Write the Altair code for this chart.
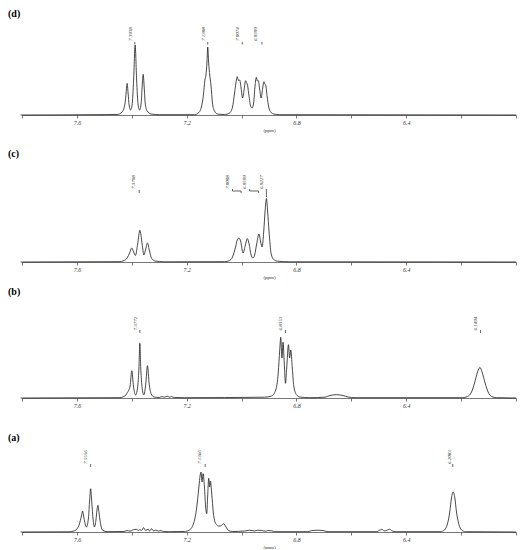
import altair as alt
import pandas as pd

# ---------------- axis ----------------
X_DOMAIN = [6.0, 7.8]
TICK_VALUES = [7.8, 7.7, 7.6, 7.5, 7.4, 7.3, 7.2, 7.1, 7.0, 6.9, 6.8, 6.7, 6.6, 6.5, 6.4, 6.3, 6.2, 6.1, 6.0]
LABELED_TICKS = ["7.6", "7.2", "6.8", "6.4"]

# ---------------- spectrum (d) ----------------
d_ppm = [7.805, 7.4536, 7.4353, 7.4244, 7.4207, 7.4170, 7.4134, 7.4097, 7.4042, 7.3988, 7.3933, 7.3878,
         7.3823, 7.3768, 7.3713, 7.3658, 7.3622, 7.3585, 7.3548, 7.3512, 7.3439, 7.3292, 7.3000, 7.1719,
         7.1573, 7.1463, 7.1390, 7.1335, 7.1298, 7.1262, 7.1232, 7.1199, 7.1159, 7.1115, 7.1060, 7.0987,
         7.0877, 7.0621, 7.0438, 7.0329, 7.0255, 7.0182, 7.0157, 7.0109, 7.0072, 7.0017, 6.9963, 6.9908,
         6.9853, 6.9816, 6.9791, 6.9743, 6.9670, 6.9615, 6.9560, 6.9505, 6.9461, 6.9421, 6.9388, 6.9341,
         6.9286, 6.9231, 6.9183, 6.9150, 6.9121, 6.9066, 6.9011, 6.8938, 6.8828, 6.8609, 6.0]
d_int = [0, 0.5, 3, 12, 22, 31.6, 22, 10, 5, 10, 35, 70,
         35, 10, 5, 12, 28, 40.6, 28, 12, 4, 1, 0.3, 0.3,
         2, 8, 20, 35, 40, 52, 68, 52, 40, 30, 12, 4,
         1, 0.5, 2, 8, 22, 36, 38.3, 34.5, 35, 27, 17, 25,
         34.3, 32, 31, 22, 9, 7, 12, 30, 37.7, 34, 34.3, 26,
         17, 27, 33.3, 31, 30, 18, 8, 3, 1, 0.3, 0]
d_lab_text = ["7.3938", "7.1308", "7.0074", "6.9399"]
d_lab_ppm = [7.4061, 7.1415, 7.0171, 6.9498]
d_lab_h = [81, 81, 81, 81]
d_seg_x1 = [7.3889, 7.1232, 6.9974, 6.9256]
d_seg_x2 = [7.3889, 7.1232, 6.9974, 6.9256]
d_seg_y1 = [73, 73, 73, 73]
d_seg_y2 = [70.5, 70.5, 70.5, 70.5]

# ---------------- spectrum (c) ----------------
c_ppm = [7.805, 7.4463, 7.4280, 7.4170, 7.4079, 7.3999, 7.3933, 7.3867, 7.3786, 7.3706, 7.3622, 7.3559,
         7.3501, 7.3428, 7.3355, 7.3274, 7.3146, 7.2817, 7.0621, 7.0438, 7.0329, 7.0219, 7.0157, 7.0098,
         7.0036, 6.9944, 6.9860, 6.9791, 6.9725, 6.9652, 6.9589, 6.9524, 6.9450, 6.9366, 6.9304, 6.9249,
         6.9194, 6.9139, 6.9095, 6.9048, 6.9000, 6.8920, 6.8828, 6.8682, 6.8243, 6.0]
c_int = [0, 0.3, 1.5, 4, 9, 14, 10, 6.5, 18, 31.7, 18, 7,
         12, 19, 11, 3.5, 1, 0.2, 0.3, 1.5, 5, 15, 22, 24,
         21, 9, 17, 23.4, 18, 7, 4, 7, 18, 28, 20, 15,
         30, 52, 63.4, 50, 31, 8, 2.5, 0.8, 0.2, 0]
c_lab_text = ["7.3798", "7.0008", "6.9599", "6.9227"]
c_lab_ppm = [7.3951, 7.0537, 6.9926, 6.9278]
c_lab_h = [80, 80, 80, 80]
c_seg_x1 = [7.3731, 7.0329, 7.0329, 7.0017, 6.9707, 6.9707, 6.9377, 6.9095]
c_seg_x2 = [7.3731, 7.0329, 7.0017, 7.0017, 6.9707, 6.9377, 6.9377, 6.9095]
c_seg_y1 = [72, 73, 71, 71, 73, 71, 71, 73]
c_seg_y2 = [69, 71, 71, 69, 71, 71, 69, 65]

# ---------------- spectrum (b) ----------------
b_ppm = [7.805, 7.4463, 7.4280, 7.4170, 7.4061, 7.3999, 7.3940, 7.3859, 7.3775, 7.3739, 7.3706, 7.3673,
         7.3636, 7.3563, 7.3490, 7.3428, 7.3366, 7.3292, 7.3183, 7.3000, 7.2890, 7.2817, 7.2707, 7.2634,
         7.2561, 7.2451, 7.2085, 6.9158, 6.8902, 6.8755, 6.8664, 6.8609, 6.8572, 6.8528, 6.8488, 6.8444,
         6.8400, 6.8356, 6.8290, 6.8250, 6.8206, 6.8151, 6.8097, 6.8005, 6.7877, 6.7511, 6.6962, 6.6779,
         6.6534, 6.6304, 6.6121, 6.5865, 6.1949, 6.1766, 6.1620, 6.1510, 6.1401, 6.1316, 6.1236, 6.1126,
         6.1016, 6.0888, 6.0705, 6.0]
b_int = [0, 0.3, 1.5, 5, 12, 27.3, 12, 3, 14, 30, 54.7, 30,
         14, 3, 14, 32.3, 14, 4, 1, 0.5, 1.5, 0.8, 1.8, 0.8,
         1.5, 0.5, 0.3, 0.8, 2, 8, 25, 48, 60.7, 40, 55.7, 35,
         14.7, 30, 53.3, 40, 48, 30, 12, 3.5, 1, 0.3, 0.8, 2.5,
         3.3, 2.5, 1, 0.3, 0.3, 1.5, 6, 15, 26, 30.6, 26, 15,
         6, 1.5, 0.3, 0]
b_lab_text = ["7.3772", "6.8353", "6.1494"]
b_lab_ppm = [7.3878, 6.8583, 6.1510]
b_lab_h = [74.5, 74.5, 74.5]
b_seg_x1 = [7.3706, 6.8400, 6.1291]
b_seg_x2 = [7.3706, 6.8400, 6.1291]
b_seg_y1 = [68, 68, 68]
b_seg_y2 = [65, 65, 65]

# ---------------- spectrum (a) ----------------
a_ppm = [7.805, 7.6293, 7.6110, 7.6000, 7.5909, 7.5835, 7.5791, 7.5744, 7.5652, 7.5579, 7.5535, 7.5499,
         7.5458, 7.5407, 7.5360, 7.5305, 7.5268, 7.5232, 7.5188, 7.5122, 7.5049, 7.4902, 7.4280, 7.4170,
         7.4061, 7.3951, 7.3830, 7.3750, 7.3706, 7.3640, 7.3574, 7.3494, 7.3402, 7.3347, 7.3281, 7.3201,
         7.3120, 7.3036, 7.2937, 7.2853, 7.2634, 7.2085, 7.1902, 7.1756, 7.1646, 7.1554, 7.1507, 7.1474,
         7.1441, 7.1401, 7.1353, 7.1309, 7.1269, 7.1236, 7.1196, 7.1163, 7.1134, 7.1086, 7.1031, 7.0969,
         7.0914, 7.0841, 7.0768, 7.0658, 7.0566, 7.0475, 7.0329, 6.9889, 6.9707, 6.9524, 6.9414, 6.9267,
         6.9121, 6.9048, 6.8902, 6.8792, 6.7584, 6.7438, 6.7218, 6.7035, 6.6852, 6.5096, 6.4950, 6.4888,
         6.4803, 6.4730, 6.4609, 6.4511, 6.4364, 6.2754, 6.2608, 6.2498, 6.2414, 6.2352, 6.2290, 6.2228,
         6.2169, 6.2085, 6.1986, 6.1840, 6.0]
a_int = [0, 0.2, 1, 3, 8, 16, 21, 14, 5, 14, 32, 43.3,
         30, 12, 5, 12, 22, 26.7, 18, 6, 1.5, 0.3, 0.5, 1.5,
         0.8, 2.2, 2.7, 1.5, 2.5, 1.5, 4.3, 1.5, 2.8, 1, 3.3, 1,
         2, 0.8, 1.5, 0.5, 0.3, 0.5, 2, 8, 22, 45, 57, 60,
         50, 58.3, 45, 25, 18.3, 35, 53.7, 45, 51, 38, 20, 10,
         7.5, 6, 6, 8.3, 5, 1.5, 0.5, 1, 1.8, 1, 1.8, 1.5,
         0.8, 1.5, 1.2, 0.3, 0.3, 1.5, 1.8, 1.5, 0.3, 0.3, 2, 2.7,
         1, 1.5, 2.7, 1, 0.3, 0.3, 2, 8, 20, 34, 40, 34,
         20, 8, 2, 0.3, 0]
a_lab_text = ["7.5556", "7.1366", "6.2083"]
a_lab_ppm = [7.5707, 7.1536, 6.2436]
a_lab_h = [75, 75, 75]
a_seg_x1 = [7.5499, 7.1327, 6.2304]
a_seg_x2 = [7.5499, 7.1327, 6.2304]
a_seg_y1 = [68, 68, 68]
a_seg_y2 = [65, 65, 65]

PANEL_WIDTH = 494
SERIF = "Liberation Serif"

label_expr = ("indexof([" + ",".join("'" + t + "'" for t in LABELED_TICKS) + "], format(datum.value, '.1f')) >= 0"
              " ? format(datum.value, '.1f') : ''")


def panel(tag, tag_h, H, ppm, inten, lab_text, lab_ppm, lab_h, sx1, sx2, sy1, sy2, show_title):
    xs = alt.Scale(domain=X_DOMAIN, reverse=True, nice=False, zero=False)
    ys = alt.Scale(domain=[0, H], nice=False, zero=False)
    axis = alt.Axis(values=TICK_VALUES, labelExpr=label_expr, grid=False, tickSize=3, tickWidth=0.8,
                    tickColor="#555555", domainColor="#555555", domainWidth=0.8,
                    labelFont=SERIF, labelFontStyle="italic", labelFontSize=6, labelColor="#333333",
                    labelPadding=1, labelFlush=False, labelOverlap=False,
                    titleFont=SERIF, titleFontSize=5, titleFontWeight="normal", titleColor="#333333",
                    titlePadding=2)
    spec = pd.DataFrame({"ppm": ppm, "i": inten})
    line = alt.Chart(spec).mark_line(interpolate="monotone", color="#1a1a1a", strokeWidth=0.8).encode(
        x=alt.X("ppm:Q", scale=xs, axis=axis, title="(ppm)" if show_title else None),
        y=alt.Y("i:Q", scale=ys, axis=None),
        order=alt.Order("ppm:Q", sort="descending"),
    )
    segs = alt.Chart(pd.DataFrame({"ppm": sx1, "ppm2": sx2, "i": sy1, "i2": sy2})).mark_rule(
        color="#222222", strokeWidth=0.7).encode(
        x=alt.X("ppm:Q", scale=xs), x2="ppm2:Q",
        y=alt.Y("i:Q", scale=ys, axis=None), y2="i2:Q",
    )
    labels = alt.Chart(pd.DataFrame({"t": lab_text, "ppm": lab_ppm, "i": lab_h})).mark_text(
        angle=270, align="center", baseline="middle", font=SERIF, fontStyle="italic",
        fontSize=5, color="#333333").encode(
        x=alt.X("ppm:Q", scale=xs),
        y=alt.Y("i:Q", scale=ys, axis=None),
        text="t:N",
    )
    tagc = alt.Chart(pd.DataFrame({"t": [tag], "i": [tag_h]})).mark_text(
        align="left", baseline="middle", font=SERIF, fontWeight="bold", fontSize=10, color="#000000").encode(
        x=alt.value(-14),
        y=alt.Y("i:Q", scale=ys, axis=None),
        text="t:N",
    )
    return alt.layer(line, segs, labels, tagc).properties(width=PANEL_WIDTH, height=H)


pd_ = panel("(d)", 101, 106, d_ppm, d_int, d_lab_text, d_lab_ppm, d_lab_h, d_seg_x1, d_seg_x2, d_seg_y1, d_seg_y2, True)
pc_ = panel("(c)", 108, 130, c_ppm, c_int, c_lab_text, c_lab_ppm, c_lab_h, c_seg_x1, c_seg_x2, c_seg_y1, c_seg_y2, True)
pb_ = panel("(b)", 106, 119, b_ppm, b_int, b_lab_text, b_lab_ppm, b_lab_h, b_seg_x1, b_seg_x2, b_seg_y1, b_seg_y2, False)
pa_ = panel("(a)", 94, 124, a_ppm, a_int, a_lab_text, a_lab_ppm, a_lab_h, a_seg_x1, a_seg_x2, a_seg_y1, a_seg_y2, True)

chart = alt.vconcat(pd_, pc_, pb_, pa_, spacing=0).properties(padding=0).configure_view(stroke=None)

chart.save("out.html", embed_options={"renderer": "svg", "actions": False})
